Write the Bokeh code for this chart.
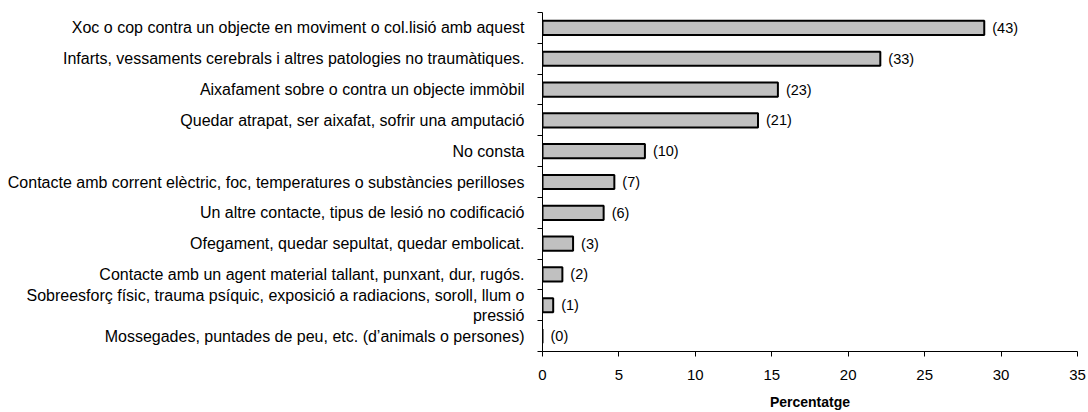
from bokeh.plotting import figure
from bokeh.models import Range1d, FixedTicker, ColumnDataSource
from bokeh.core.properties import value
from bokeh.embed import file_html
from bokeh.resources import INLINE

categories = [
    "Xoc o cop contra un objecte en moviment o col.lisió amb aquest",
    "Infarts, vessaments cerebrals i altres patologies no traumàtiques.",
    "Aixafament sobre o contra un objecte immòbil",
    "Quedar atrapat, ser aixafat, sofrir una amputació",
    "No consta",
    "Contacte amb corrent elèctric, foc, temperatures o substàncies perilloses",
    "Un altre contacte, tipus de lesió no codificació",
    "Ofegament, quedar sepultat, quedar embolicat.",
    "Contacte amb un agent material tallant, punxant, dur, rugós.",
    "Sobreesforç físic, trauma psíquic, exposició a radiacions, soroll, llum o\npressió",
    "Mossegades, puntades de peu, etc. (d’animals o persones)",
]
percentages = [28.9, 22.1, 15.4, 14.1, 6.7, 4.7, 4.0, 2.0, 1.3, 0.7, 0.0]
counts = ["(43)", "(33)", "(23)", "(21)", "(10)", "(7)", "(6)", "(3)", "(2)", "(1)", "(0)"]
x_ticks = [0, 5, 10, 15, 20, 25, 30, 35]

n = len(categories)
ypos = [n - 0.5 - i for i in range(n)]
FONT = "Liberation Sans"

p = figure(width=1088, height=412, output_backend="svg", toolbar_location=None,
           x_range=Range1d(0, 35), y_range=Range1d(0, n))
p.min_border_left = 542
p.min_border_right = 11
p.min_border_top = 12
p.min_border_bottom = 58
p.outline_line_color = None
p.background_fill_color = "white"
p.border_fill_color = "white"
p.xgrid.visible = False
p.ygrid.visible = False

src = ColumnDataSource(dict(y=ypos, v=percentages, lab=counts))
p.hbar(y="y", left=0, right="v", height=0.46, source=src,
       fill_color="#c0c0c0", line_color="black", line_width=2)
p.text(x="v", y="y", text="lab", source=src, x_offset=8,
       text_font=value(FONT), text_font_size="14.5px",
       text_baseline="middle", text_align="left", text_color="black")

xa = p.xaxis[0]
xa.ticker = FixedTicker(ticks=x_ticks)
xa.major_tick_out = 5
xa.major_tick_in = 0
xa.minor_tick_out = 0
xa.minor_tick_in = 0
xa.axis_line_color = "black"
xa.major_tick_line_color = "black"
xa.major_label_text_font = FONT
xa.major_label_text_font_size = "15px"
xa.major_label_text_color = "black"
xa.major_label_standoff = 13
xa.axis_label = "Percentatge"
xa.axis_label_text_font = FONT
xa.axis_label_text_font_size = "14px"
xa.axis_label_text_font_style = "bold"
xa.axis_label_text_color = "black"
xa.axis_label_standoff = 11

ya = p.yaxis[0]
ya.ticker = FixedTicker(ticks=ypos, minor_ticks=list(range(n + 1)))
ya.major_label_overrides = {y: c for y, c in zip(ypos, categories)}
ya.major_tick_out = 0
ya.major_tick_in = 0
ya.minor_tick_out = 5
ya.minor_tick_in = 0
ya.minor_tick_line_color = "black"
ya.axis_line_color = "black"
ya.major_label_text_font = FONT
ya.major_label_text_font_size = "16px"
ya.major_label_text_color = "black"
ya.major_label_standoff = 13

open("out.html", "w").write(file_html(p, INLINE))
